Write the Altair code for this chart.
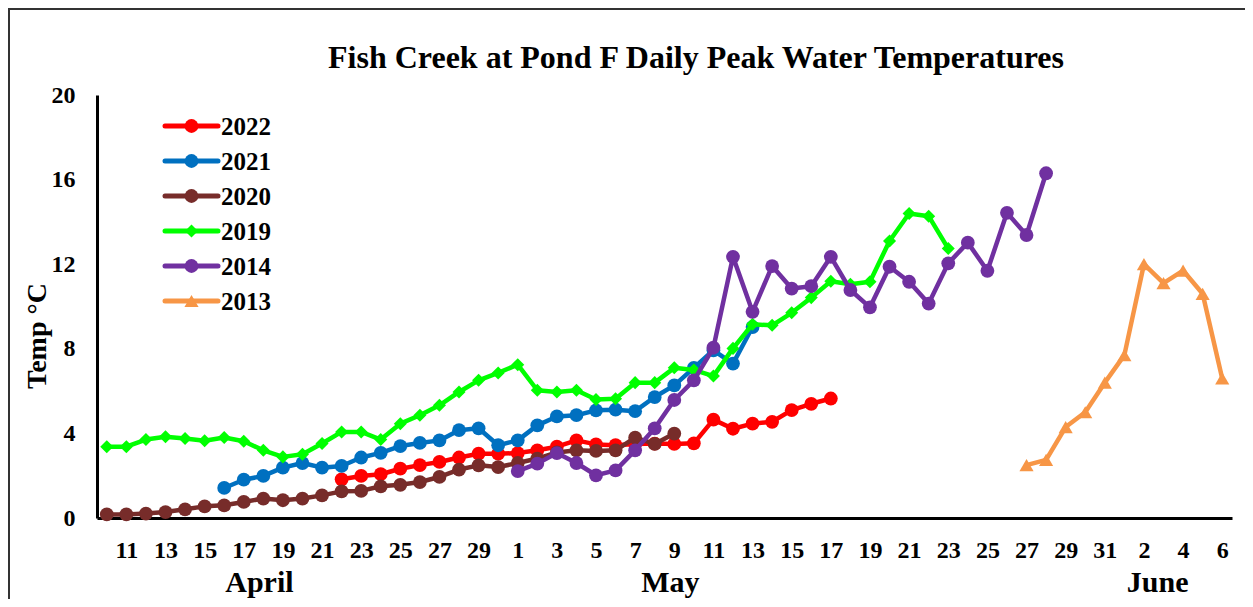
import altair as alt
import pandas as pd

# ---------------- data ----------------
first_day = pd.Timestamp("2022-04-10")
last_day = pd.Timestamp("2022-06-06")
dates = pd.date_range(first_day, last_day, freq="D")
day_numbers = [int(d.day) for d in dates]

series_names = ["2022", "2021", "2020", "2019", "2014", "2013"]
series_colors = ["#FF0000", "#0070C0", "#772C2A", "#00FF00", "#7030A0", "#F79646"]
series_shapes = ["circle", "circle", "circle", "diamond", "circle", "triangle-up"]
series_start = ["04-22", "04-16", "04-10", "04-10", "05-01", "05-27"]

t2022 = [1.83, 1.99, 2.07, 2.33, 2.50, 2.65, 2.86, 3.04, 3.04,
         3.07, 3.20, 3.37, 3.67, 3.48, 3.44, 3.50, 3.52, 3.50, 3.53,
         4.65, 4.22, 4.46, 4.55, 5.10, 5.40, 5.65]
t2021 = [1.42, 1.81, 1.99, 2.38, 2.60, 2.38, 2.46, 2.86, 3.08, 3.40,
         3.55, 3.67, 4.15, 4.24, 3.44,
         3.67, 4.38, 4.80, 4.86, 5.09, 5.12, 5.05, 5.72, 6.27, 7.10,
         7.93, 7.30, 9.03]
t2020 = [0.17, 0.17, 0.21, 0.28, 0.41, 0.55, 0.60, 0.76, 0.92, 0.84,
         0.92, 1.07, 1.26, 1.28, 1.50, 1.57, 1.70, 1.94, 2.29, 2.49, 2.41,
         2.60, 2.81, 3.10, 3.20, 3.17, 3.20, 3.80, 3.50, 3.99]
t2019 = [3.37, 3.37, 3.71, 3.84, 3.76, 3.65, 3.81, 3.63, 3.20, 2.89,
         3.01, 3.52, 4.07, 4.07, 3.71, 4.46, 4.86, 5.33, 5.96, 6.51, 6.86,
         7.25, 6.04, 5.96, 6.04, 5.60, 5.64, 6.40, 6.40, 7.10, 7.00,
         6.71, 8.02, 9.16, 9.11, 9.70, 10.42, 11.19, 11.05, 11.17, 13.10,
         14.40, 14.27, 12.74]
t2014 = [2.22, 2.57, 3.07, 2.60, 2.02, 2.25, 3.20, 4.24, 5.58, 6.51,
         8.05, 12.35, 9.75, 11.91, 10.85, 10.96, 12.35, 10.78, 9.96, 11.88,
         11.17, 10.14, 12.04, 13.02, 11.69, 14.43, 13.38, 16.30]
t2013 = [2.50, 2.75, 4.30, 5.00, 6.40, 7.70, 12.00, 11.10, 11.70, 10.60, 6.60]
series_values = [t2022, t2021, t2020, t2019, t2014, t2013]

y_ticks = [0, 4, 8, 12, 16, 20]
month_names = ["April", "May", "June"]
month_label_at = [7.8, 28.8, 53.7]   # day index where each month name sits

# ---------------- layout ----------------
W, H = 1135, 423
SERIF = "Liberation Serif"

x_scale = alt.Scale(domain=[-0.5, len(dates) - 0.5], nice=False, zero=False)
y_scale = alt.Scale(domain=[0, 20], nice=False)

label_expr = f"{day_numbers}[datum.value]"

x_enc = alt.X(
    "day:Q", scale=x_scale,
    axis=alt.Axis(values=list(range(1, len(dates), 2)), labelExpr=label_expr,
                  title=None, ticks=False, grid=False, labelPadding=20,
                  domainWidth=3, domainColor="black", labelFlush=False,
                  labelOverlap=False),
)
y_enc = alt.Y(
    "temp:Q", scale=y_scale,
    axis=alt.Axis(values=y_ticks, title=None, ticks=False, grid=False,
                  labelPadding=22, domainWidth=3, domainColor="black"),
)

layers = []

# chart-area border
one = pd.DataFrame({"k": [0]})
layers.append(
    alt.Chart(one).mark_rect(filled=False, stroke="#333333", strokeWidth=2).encode(
        x=alt.value(-88), x2=alt.value(1300), y=alt.value(-86), y2=alt.value(700)
    )
)

# series
for name, color, shape, start, vals in zip(series_names, series_colors,
                                           series_shapes, series_start, series_values):
    offset = (pd.Timestamp("2022-" + start) - first_day).days
    df = pd.DataFrame({"day": [offset + i for i in range(len(vals))], "temp": vals})
    size = 190 if shape == "circle" else (170 if shape == "diamond" else 200)
    layers.append(
        alt.Chart(df).mark_line(color=color, strokeWidth=4.5, strokeJoin="round")
        .encode(x=x_enc, y=y_enc)
    )
    layers.append(
        alt.Chart(df).mark_point(filled=True, opacity=1, color=color, shape=shape,
                                 size=size)
        .encode(x=x_enc, y=y_enc)
    )

# manual legend
for i, (name, color, shape) in enumerate(zip(series_names, series_colors, series_shapes)):
    ly = 31 + 35 * i
    size = 190 if shape == "circle" else (170 if shape == "diamond" else 200)
    layers.append(
        alt.Chart(one).mark_rule(color=color, strokeWidth=5, strokeCap="round").encode(
            x=alt.value(68), x2=alt.value(121), y=alt.value(ly)
        )
    )
    layers.append(
        alt.Chart(one).mark_point(filled=True, opacity=1, color=color, shape=shape,
                                  size=size).encode(x=alt.value(94.5), y=alt.value(ly))
    )
    layers.append(
        alt.Chart(one).mark_text(font=SERIF, fontWeight="bold", fontSize=25,
                                 align="left", baseline="middle", color="black")
        .encode(x=alt.value(124), y=alt.value(ly + 1), text=alt.value(name))
    )

# month labels
months_df = pd.DataFrame({"month": month_names, "day": month_label_at})
layers.append(
    alt.Chart(months_df).mark_text(font=SERIF, fontWeight="bold", fontSize=30,
                                   align="center", baseline="alphabetic", color="black")
    .encode(x=alt.X("day:Q", scale=x_scale), y=alt.value(H + 74), text="month:N")
)

# title
layers.append(
    alt.Chart(one).mark_text(font=SERIF, fontWeight="bold", fontSize=32,
                             align="center", baseline="alphabetic", color="black")
    .encode(x=alt.value(599), y=alt.value(-27),
            text=alt.value("Fish Creek at Pond F Daily Peak Water Temperatures"))
)

# y title
layers.append(
    alt.Chart(one).mark_text(font=SERIF, fontWeight="bold", fontSize=28, angle=270,
                             align="center", baseline="middle", color="black")
    .encode(x=alt.value(-59), y=alt.value(241), text=alt.value("Temp °C"))
)

chart = (
    alt.layer(*layers)
    .properties(
        width=W, height=H,
        autosize=alt.AutoSizeParams(type="none"),
        padding={"left": 89, "top": 87, "right": 13, "bottom": 81},
        background="white",
    )
    .configure_view(strokeWidth=0)
    .configure_axis(labelFont=SERIF, labelFontWeight="bold", labelFontSize=24,
                    labelColor="black")
)

chart.save("out.html", embed_options={"renderer": "svg", "actions": False})
